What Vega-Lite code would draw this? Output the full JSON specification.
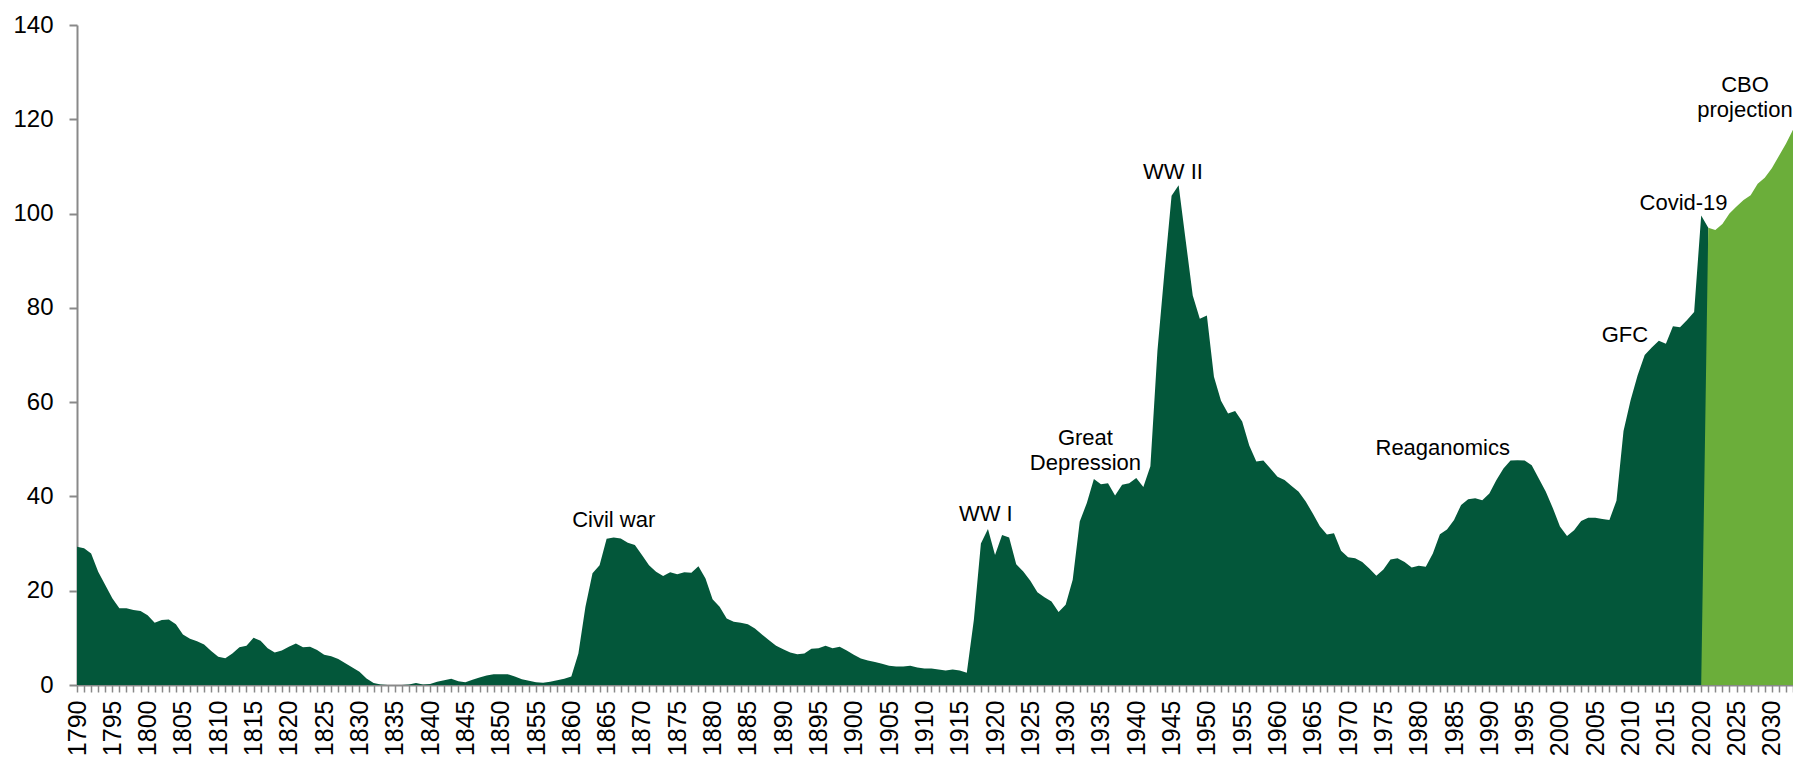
{
  "$schema": "https://vega.github.io/schema/vega-lite/v6.json",
  "width": 1716,
  "height": 660,
  "autosize": {"type": "none"},
  "padding": {"left": 77, "top": 25, "right": 0, "bottom": 72},
  "background": "white",
  "config": {"view": {"stroke": null}, "font": "Liberation Sans"},
  "datasets": {
    "debt": [
      {"year":1790,"value":29.3,"series":"Historical"},{"year":1791,"value":29.0,"series":"Historical"},{"year":1792,"value":27.9,"series":"Historical"},{"year":1793,"value":24.0,"series":"Historical"},{"year":1794,"value":21.2,"series":"Historical"},{"year":1795,"value":18.4,"series":"Historical"},{"year":1796,"value":16.3,"series":"Historical"},{"year":1797,"value":16.3,"series":"Historical"},{"year":1798,"value":15.9,"series":"Historical"},{"year":1799,"value":15.7,"series":"Historical"},
      {"year":1800,"value":14.8,"series":"Historical"},{"year":1801,"value":13.2,"series":"Historical"},{"year":1802,"value":13.8,"series":"Historical"},{"year":1803,"value":13.9,"series":"Historical"},{"year":1804,"value":12.9,"series":"Historical"},{"year":1805,"value":10.7,"series":"Historical"},{"year":1806,"value":9.8,"series":"Historical"},{"year":1807,"value":9.3,"series":"Historical"},{"year":1808,"value":8.6,"series":"Historical"},{"year":1809,"value":7.2,"series":"Historical"},
      {"year":1810,"value":6.0,"series":"Historical"},{"year":1811,"value":5.7,"series":"Historical"},{"year":1812,"value":6.7,"series":"Historical"},{"year":1813,"value":8.0,"series":"Historical"},{"year":1814,"value":8.3,"series":"Historical"},{"year":1815,"value":10.0,"series":"Historical"},{"year":1816,"value":9.4,"series":"Historical"},{"year":1817,"value":7.8,"series":"Historical"},{"year":1818,"value":6.9,"series":"Historical"},{"year":1819,"value":7.3,"series":"Historical"},
      {"year":1820,"value":8.1,"series":"Historical"},{"year":1821,"value":8.8,"series":"Historical"},{"year":1822,"value":8.0,"series":"Historical"},{"year":1823,"value":8.1,"series":"Historical"},{"year":1824,"value":7.4,"series":"Historical"},{"year":1825,"value":6.4,"series":"Historical"},{"year":1826,"value":6.1,"series":"Historical"},{"year":1827,"value":5.5,"series":"Historical"},{"year":1828,"value":4.6,"series":"Historical"},{"year":1829,"value":3.7,"series":"Historical"},
      {"year":1830,"value":2.8,"series":"Historical"},{"year":1831,"value":1.4,"series":"Historical"},{"year":1832,"value":0.4,"series":"Historical"},{"year":1833,"value":0.1,"series":"Historical"},{"year":1834,"value":0.0,"series":"Historical"},{"year":1835,"value":0.0,"series":"Historical"},{"year":1836,"value":0.0,"series":"Historical"},{"year":1837,"value":0.1,"series":"Historical"},{"year":1838,"value":0.4,"series":"Historical"},{"year":1839,"value":0.1,"series":"Historical"},
      {"year":1840,"value":0.2,"series":"Historical"},{"year":1841,"value":0.7,"series":"Historical"},{"year":1842,"value":1.0,"series":"Historical"},{"year":1843,"value":1.3,"series":"Historical"},{"year":1844,"value":0.8,"series":"Historical"},{"year":1845,"value":0.6,"series":"Historical"},{"year":1846,"value":1.1,"series":"Historical"},{"year":1847,"value":1.6,"series":"Historical"},{"year":1848,"value":2.0,"series":"Historical"},{"year":1849,"value":2.3,"series":"Historical"},
      {"year":1850,"value":2.3,"series":"Historical"},{"year":1851,"value":2.3,"series":"Historical"},{"year":1852,"value":1.8,"series":"Historical"},{"year":1853,"value":1.2,"series":"Historical"},{"year":1854,"value":0.9,"series":"Historical"},{"year":1855,"value":0.6,"series":"Historical"},{"year":1856,"value":0.5,"series":"Historical"},{"year":1857,"value":0.7,"series":"Historical"},{"year":1858,"value":1.0,"series":"Historical"},{"year":1859,"value":1.3,"series":"Historical"},
      {"year":1860,"value":1.8,"series":"Historical"},{"year":1861,"value":6.7,"series":"Historical"},{"year":1862,"value":16.6,"series":"Historical"},{"year":1863,"value":23.7,"series":"Historical"},{"year":1864,"value":25.4,"series":"Historical"},{"year":1865,"value":31.0,"series":"Historical"},{"year":1866,"value":31.3,"series":"Historical"},{"year":1867,"value":31.1,"series":"Historical"},{"year":1868,"value":30.2,"series":"Historical"},{"year":1869,"value":29.7,"series":"Historical"},
      {"year":1870,"value":27.6,"series":"Historical"},{"year":1871,"value":25.4,"series":"Historical"},{"year":1872,"value":24.0,"series":"Historical"},{"year":1873,"value":23.1,"series":"Historical"},{"year":1874,"value":23.9,"series":"Historical"},{"year":1875,"value":23.5,"series":"Historical"},{"year":1876,"value":23.9,"series":"Historical"},{"year":1877,"value":23.8,"series":"Historical"},{"year":1878,"value":25.2,"series":"Historical"},{"year":1879,"value":22.6,"series":"Historical"},
      {"year":1880,"value":18.2,"series":"Historical"},{"year":1881,"value":16.6,"series":"Historical"},{"year":1882,"value":14.1,"series":"Historical"},{"year":1883,"value":13.4,"series":"Historical"},{"year":1884,"value":13.2,"series":"Historical"},{"year":1885,"value":12.9,"series":"Historical"},{"year":1886,"value":12.0,"series":"Historical"},{"year":1887,"value":10.7,"series":"Historical"},{"year":1888,"value":9.5,"series":"Historical"},{"year":1889,"value":8.3,"series":"Historical"},
      {"year":1890,"value":7.6,"series":"Historical"},{"year":1891,"value":6.9,"series":"Historical"},{"year":1892,"value":6.5,"series":"Historical"},{"year":1893,"value":6.7,"series":"Historical"},{"year":1894,"value":7.7,"series":"Historical"},{"year":1895,"value":7.8,"series":"Historical"},{"year":1896,"value":8.3,"series":"Historical"},{"year":1897,"value":7.8,"series":"Historical"},{"year":1898,"value":8.1,"series":"Historical"},{"year":1899,"value":7.3,"series":"Historical"},
      {"year":1900,"value":6.4,"series":"Historical"},{"year":1901,"value":5.6,"series":"Historical"},{"year":1902,"value":5.2,"series":"Historical"},{"year":1903,"value":4.9,"series":"Historical"},{"year":1904,"value":4.5,"series":"Historical"},{"year":1905,"value":4.1,"series":"Historical"},{"year":1906,"value":3.9,"series":"Historical"},{"year":1907,"value":3.9,"series":"Historical"},{"year":1908,"value":4.1,"series":"Historical"},{"year":1909,"value":3.7,"series":"Historical"},
      {"year":1910,"value":3.5,"series":"Historical"},{"year":1911,"value":3.5,"series":"Historical"},{"year":1912,"value":3.3,"series":"Historical"},{"year":1913,"value":3.1,"series":"Historical"},{"year":1914,"value":3.3,"series":"Historical"},{"year":1915,"value":3.1,"series":"Historical"},{"year":1916,"value":2.6,"series":"Historical"},{"year":1917,"value":13.8,"series":"Historical"},{"year":1918,"value":30.0,"series":"Historical"},{"year":1919,"value":33.1,"series":"Historical"},
      {"year":1920,"value":27.6,"series":"Historical"},{"year":1921,"value":31.8,"series":"Historical"},{"year":1922,"value":31.3,"series":"Historical"},{"year":1923,"value":25.6,"series":"Historical"},{"year":1924,"value":24.1,"series":"Historical"},{"year":1925,"value":22.1,"series":"Historical"},{"year":1926,"value":19.7,"series":"Historical"},{"year":1927,"value":18.6,"series":"Historical"},{"year":1928,"value":17.7,"series":"Historical"},{"year":1929,"value":15.5,"series":"Historical"},
      {"year":1930,"value":17.0,"series":"Historical"},{"year":1931,"value":22.3,"series":"Historical"},{"year":1932,"value":34.7,"series":"Historical"},{"year":1933,"value":38.6,"series":"Historical"},{"year":1934,"value":43.7,"series":"Historical"},{"year":1935,"value":42.6,"series":"Historical"},{"year":1936,"value":42.8,"series":"Historical"},{"year":1937,"value":40.2,"series":"Historical"},{"year":1938,"value":42.5,"series":"Historical"},{"year":1939,"value":42.8,"series":"Historical"},
      {"year":1940,"value":43.9,"series":"Historical"},{"year":1941,"value":42.0,"series":"Historical"},{"year":1942,"value":46.4,"series":"Historical"},{"year":1943,"value":70.9,"series":"Historical"},{"year":1944,"value":87.7,"series":"Historical"},{"year":1945,"value":103.8,"series":"Historical"},{"year":1946,"value":106.0,"series":"Historical"},{"year":1947,"value":94.3,"series":"Historical"},{"year":1948,"value":82.6,"series":"Historical"},{"year":1949,"value":77.7,"series":"Historical"},
      {"year":1950,"value":78.4,"series":"Historical"},{"year":1951,"value":65.4,"series":"Historical"},{"year":1952,"value":60.3,"series":"Historical"},{"year":1953,"value":57.6,"series":"Historical"},{"year":1954,"value":58.1,"series":"Historical"},{"year":1955,"value":55.9,"series":"Historical"},{"year":1956,"value":50.8,"series":"Historical"},{"year":1957,"value":47.4,"series":"Historical"},{"year":1958,"value":47.6,"series":"Historical"},{"year":1959,"value":45.9,"series":"Historical"},
      {"year":1960,"value":44.2,"series":"Historical"},{"year":1961,"value":43.5,"series":"Historical"},{"year":1962,"value":42.2,"series":"Historical"},{"year":1963,"value":41.0,"series":"Historical"},{"year":1964,"value":38.9,"series":"Historical"},{"year":1965,"value":36.4,"series":"Historical"},{"year":1966,"value":33.7,"series":"Historical"},{"year":1967,"value":31.9,"series":"Historical"},{"year":1968,"value":32.2,"series":"Historical"},{"year":1969,"value":28.5,"series":"Historical"},
      {"year":1970,"value":27.1,"series":"Historical"},{"year":1971,"value":26.9,"series":"Historical"},{"year":1972,"value":26.1,"series":"Historical"},{"year":1973,"value":24.7,"series":"Historical"},{"year":1974,"value":23.2,"series":"Historical"},{"year":1975,"value":24.5,"series":"Historical"},{"year":1976,"value":26.6,"series":"Historical"},{"year":1977,"value":26.9,"series":"Historical"},{"year":1978,"value":26.1,"series":"Historical"},{"year":1979,"value":24.9,"series":"Historical"},
      {"year":1980,"value":25.3,"series":"Historical"},{"year":1981,"value":25.1,"series":"Historical"},{"year":1982,"value":27.9,"series":"Historical"},{"year":1983,"value":32.0,"series":"Historical"},{"year":1984,"value":33.0,"series":"Historical"},{"year":1985,"value":35.0,"series":"Historical"},{"year":1986,"value":38.2,"series":"Historical"},{"year":1987,"value":39.4,"series":"Historical"},{"year":1988,"value":39.6,"series":"Historical"},{"year":1989,"value":39.2,"series":"Historical"},
      {"year":1990,"value":40.6,"series":"Historical"},{"year":1991,"value":43.5,"series":"Historical"},{"year":1992,"value":45.9,"series":"Historical"},{"year":1993,"value":47.6,"series":"Historical"},{"year":1994,"value":47.7,"series":"Historical"},{"year":1995,"value":47.6,"series":"Historical"},{"year":1996,"value":46.6,"series":"Historical"},{"year":1997,"value":43.8,"series":"Historical"},{"year":1998,"value":41.0,"series":"Historical"},{"year":1999,"value":37.5,"series":"Historical"},
      {"year":2000,"value":33.6,"series":"Historical"},{"year":2001,"value":31.6,"series":"Historical"},{"year":2002,"value":32.8,"series":"Historical"},{"year":2003,"value":34.8,"series":"Historical"},{"year":2004,"value":35.5,"series":"Historical"},{"year":2005,"value":35.5,"series":"Historical"},{"year":2006,"value":35.2,"series":"Historical"},{"year":2007,"value":35.0,"series":"Historical"},{"year":2008,"value":39.1,"series":"Historical"},{"year":2009,"value":53.9,"series":"Historical"},
      {"year":2010,"value":60.4,"series":"Historical"},{"year":2011,"value":65.7,"series":"Historical"},{"year":2012,"value":70.0,"series":"Historical"},{"year":2013,"value":71.6,"series":"Historical"},{"year":2014,"value":73.0,"series":"Historical"},{"year":2015,"value":72.4,"series":"Historical"},{"year":2016,"value":76.1,"series":"Historical"},{"year":2017,"value":75.9,"series":"Historical"},{"year":2018,"value":77.4,"series":"Historical"},{"year":2019,"value":79.1,"series":"Historical"},
      {"year":2020,"value":99.6,"series":"Historical"},{"year":2021,"value":97.0,"series":"Historical"},
      {"year":2020,"value":0,"series":"CBO projection"},{"year":2021,"value":97.0,"series":"CBO projection"},{"year":2022,"value":96.5,"series":"CBO projection"},{"year":2023,"value":97.8,"series":"CBO projection"},{"year":2024,"value":100.0,"series":"CBO projection"},{"year":2025,"value":101.5,"series":"CBO projection"},{"year":2026,"value":102.9,"series":"CBO projection"},{"year":2027,"value":103.9,"series":"CBO projection"},{"year":2028,"value":106.3,"series":"CBO projection"},{"year":2029,"value":107.6,"series":"CBO projection"},{"year":2030,"value":109.6,"series":"CBO projection"},{"year":2031,"value":112.2,"series":"CBO projection"},{"year":2032,"value":114.8,"series":"CBO projection"},{"year":2033,"value":117.8,"series":"CBO projection"}
    ],
    "notes": [
      {"year":1866.0,"value":35.0,"label":"Civil war"},
      {"year":1918.7,"value":36.2,"label":"WW I"},
      {"year":1932.8,"value":52.5,"label":"Great\nDepression"},
      {"year":1945.2,"value":108.8,"label":"WW II"},
      {"year":1983.4,"value":50.2,"label":"Reaganomics"},
      {"year":2009.2,"value":74.2,"label":"GFC"},
      {"year":2017.5,"value":102.3,"label":"Covid-19"},
      {"year":2026.2,"value":127.3,"label":"CBO\nprojection"}
    ]
  },
  "layer": [
    {
      "data": {"name": "debt"},
      "transform": [{"filter": "datum.series === 'Historical'"}],
      "mark": {"type": "area", "color": "#03573A", "interpolate": "linear"},
      "encoding": {
        "x": {
          "field": "year", "type": "quantitative",
          "scale": {"domain": [1790, 2033], "nice": false, "zero": false},
          "axis": {
            "title": null, "grid": false, "tickCount": 243, "format": "d",
            "labelExpr": "datum.value % 5 === 0 ? datum.label : ''",
            "labelAngle": -90, "labelOverlap": false, "labelFlush": false, "labelBound": false,
            "labelFontSize": 25, "labelFont": "Liberation Sans", "labelColor": "#000000", "labelPadding": 8,
            "tickSize": 7, "tickColor": "#898989", "tickWidth": 1.5,
            "domainColor": "#898989", "domainWidth": 2
          }
        },
        "y": {
          "field": "value", "type": "quantitative",
          "scale": {"domain": [0, 140], "nice": false},
          "axis": {
            "title": null, "grid": false, "values": [0, 20, 40, 60, 80, 100, 120, 140],
            "labelFontSize": 24, "labelFont": "Liberation Sans", "labelColor": "#000000", "labelPadding": 16,
            "tickSize": 8, "tickColor": "#898989", "tickWidth": 2,
            "domainColor": "#898989", "domainWidth": 2
          }
        }
      }
    },
    {
      "data": {"name": "debt"},
      "transform": [{"filter": "datum.series === 'CBO projection'"}],
      "mark": {"type": "area", "color": "#6BAE3A", "interpolate": "linear"},
      "encoding": {
        "x": {"field": "year", "type": "quantitative"},
        "y": {"field": "value", "type": "quantitative"}
      }
    },
    {
      "data": {"name": "notes"},
      "mark": {"type": "text", "fontSize": 22, "font": "Liberation Sans", "color": "#000000", "lineBreak": "\n", "lineHeight": 25, "baseline": "middle", "align": "center"},
      "encoding": {
        "x": {"field": "year", "type": "quantitative"},
        "y": {"field": "value", "type": "quantitative"},
        "text": {"field": "label"}
      }
    }
  ]
}
